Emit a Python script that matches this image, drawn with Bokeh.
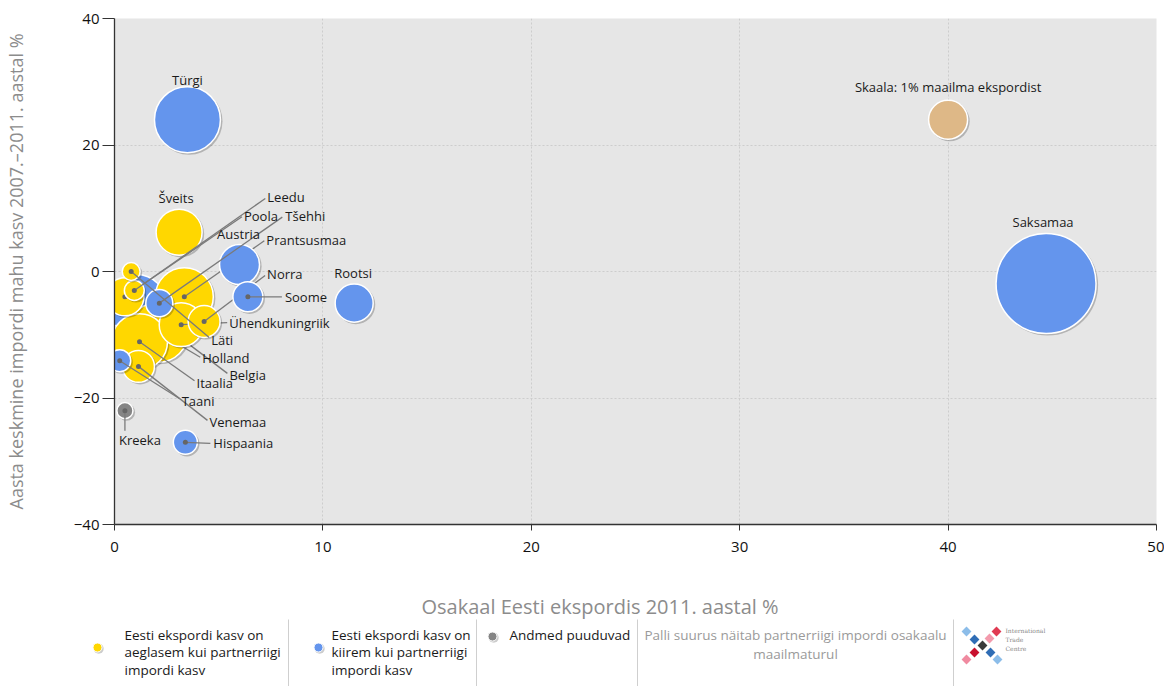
import math
from bokeh.plotting import figure
from bokeh.models import Range1d, FixedTicker
from bokeh.layouts import column, row
from bokeh.embed import file_html
from bokeh.resources import INLINE
from bokeh.core.properties import value

# ---------------- data ----------------
countries = ["Saksamaa", "Türgi", "Rootsi", "Šveits", "Austria", "Soome", "Prantsusmaa",
             "Norra", "Tšehhi", "Läti", "Leedu", "Poola", "Belgia", "Holland",
             "Ühendkuningriik", "Itaalia", "Taani", "Venemaa", "Kreeka", "Hispaania",
             "Skaala: 1% maailma ekspordist"]
export_share = [44.7, 3.5, 11.5, 3.1, 6.0, 6.4, 3.35, 4.3, 2.15, 0.8, 0.95, 0.5, 1.05, 2.1,
                3.2, 1.2, 0.25, 1.15, 0.5, 3.4, 40.0]
import_growth = [-1.9, 24.0, -5.0, 6.2, 1.1, -4.0, -4.0, -7.9, -5.0, 0.0, -3.0, -4.0, -5.2, -9.6,
                 -8.4, -11.1, -14.1, -15.0, -22.0, -27.0, 24.0]
world_import_share = [6.57, 2.86, 0.95, 1.39, 1.05, 0.59, 2.21, 0.67, 0.48, 0.21, 0.26, 0.95, 2.37,
                      2.37, 1.27, 2.06, 0.32, 0.67, 0.17, 0.38, 1.0]
group = ["fast", "fast", "fast", "slow", "fast", "fast", "slow", "slow", "fast", "slow", "slow",
         "slow", "fast", "slow", "slow", "slow", "fast", "slow", "na", "fast", "scale"]

x_ticks = [0, 10, 20, 30, 40, 50]
y_ticks = [-40, -20, 0, 20, 40]
y_tick_labels = ["−40", "−20", "0", "20", "40"]

x_title = "Osakaal Eesti ekspordis 2011. aastal %"
y_title = "Aasta keskmine impordi mahu kasv 2007.–2011. aastal %"

legend_slow = ["Eesti ekspordi kasv on", "aeglasem kui partnerriigi", "impordi kasv"]
legend_fast = ["Eesti ekspordi kasv on", "kiirem kui partnerriigi", "impordi kasv"]
legend_na = ["Andmed puuduvad"]
legend_size = ["Palli suurus näitab partnerriigi impordi osakaalu", "maailmaturul"]
logo_text = ["International", "Trade", "Centre"]

# ---------------- style ----------------
COL = {"slow": "#FFD700", "fast": "#6495ED", "na": "#858585", "scale": "#DEB887"}
FONT = "Open Sans"
FRAME_W, FRAME_H = 1042, 506
XR, YR = (0, 50), (-40, 40)
PX = FRAME_W / (XR[1] - XR[0])
PY = FRAME_H / (YR[1] - YR[0])
R1 = 19.5  # px radius of 1% bubble
TOP, BOTTOM = 18, 40

# label placement in screen px relative to bubble centre: align, text dx, dy, leader dx, dy
LAB = {
    "Saksamaa": ("center", -3, -62, None, None),
    "Türgi": ("center", 0, -40, None, None),
    "Rootsi": ("center", -1, -30, None, None),
    "Šveits": ("center", -3, -34, None, None),
    "Austria": ("center", -1, -31, None, None),
    "Skaala: 1% maailma ekspordist": ("center", 0, -33, None, None),
    "Soome": ("left", 37, 0, 34, 0),
    "Prantsusmaa": ("left", 82, -57, 80, -56),
    "Norra": ("left", 63, -47, 61, -46),
    "Tšehhi": ("left", 126, -87, 123, -86),
    "Läti": ("left", 80, 68, 78, 66),
    "Leedu": ("left", 133, -93, 131, -92),
    "Poola": ("left", 119, -81, 117, -80),
    "Belgia": ("left", 93, 71, 91, 69),
    "Holland": ("left", 44, 26, 42, 25),
    "Ühendkuningriik": ("left", 48, -2, 46, -2),
    "Itaalia": ("left", 57, 41, 55, 39),
    "Taani": ("left", 62, 40, 60, 38),
    "Venemaa": ("left", 71, 56, 69, 54),
    "Kreeka": ("center", 15, 29, 0, 20),
    "Hispaania": ("left", 28, 1, 25, 1),
}

p = figure(frame_width=FRAME_W, frame_height=FRAME_H, x_range=Range1d(*XR), y_range=Range1d(*YR),
           output_backend="svg", toolbar_location=None,
           min_border_left=105, min_border_top=TOP, min_border_right=8, min_border_bottom=BOTTOM)
p.background_fill_color = "#e6e6e6"
p.border_fill_color = "white"
p.outline_line_color = None

p.xaxis.ticker = FixedTicker(ticks=x_ticks)
p.yaxis.ticker = FixedTicker(ticks=y_ticks)
p.yaxis.major_label_overrides = {t: l for t, l in zip(y_ticks, y_tick_labels)}
for ax in (p.xaxis, p.yaxis):
    ax.axis_line_color = "#333333"
    ax.axis_line_width = 1.3
    ax.major_tick_line_color = "#333333"
    ax.minor_tick_line_color = None
    ax.major_tick_in = 0
    ax.major_label_text_font = FONT
    ax.major_label_text_font_size = "15px"
    ax.major_label_text_color = "#111111"
    ax.axis_label_text_font = FONT
    ax.axis_label_text_font_style = "normal"
    ax.axis_label_text_color = "#8c8c8c"
p.yaxis.axis_label_text_font_size = "18px"
p.yaxis.major_tick_out = 12
p.yaxis.major_label_standoff = 3
p.xaxis.major_tick_out = 6
p.xaxis.major_label_standoff = 11
p.yaxis.axis_label = y_title
p.yaxis.axis_label_standoff = 43

p.xgrid.grid_line_color = "#cdcdcd"
p.ygrid.grid_line_color = "#cdcdcd"
p.xgrid.grid_line_dash = "2 2"
p.ygrid.grid_line_dash = "2 2"

order = sorted(range(len(countries)), key=lambda i: -world_import_share[i])
left_lab = {"x": [], "y": [], "t": []}
cent_lab = {"x": [], "y": [], "t": []}
for i in order:
    name = countries[i]
    cx, cy = export_share[i], import_growth[i]
    d = 2 * R1 * math.sqrt(world_import_share[i])
    p.scatter([cx + 1.6 / PX], [cy - 1.6 / PY], size=d + 1, fill_color="#000000",
              fill_alpha=0.22, line_color=None)
    p.scatter([cx], [cy], size=d, fill_color=COL[group[i]], line_color="white", line_width=1.5)
    align, tdx, tdy, ldx, ldy = LAB[name]
    if ldx is not None:
        p.segment(x0=[cx], y0=[cy], x1=[cx + ldx / PX], y1=[cy - ldy / PY],
                  line_color="#7a7a7a", line_width=1.3)
        p.scatter([cx], [cy], size=5, fill_color="#666666", line_color=None)
    tgt = left_lab if align == "left" else cent_lab
    tgt["x"].append(cx + tdx / PX)
    tgt["y"].append(cy - tdy / PY)
    tgt["t"].append(name)

p.text(x=left_lab["x"], y=left_lab["y"], text=left_lab["t"], text_font=value(FONT),
       text_font_size="13px", text_color="#1a1a1a", text_align="left", text_baseline="middle")
p.text(x=cent_lab["x"], y=cent_lab["y"], text=cent_lab["t"], text_font=value(FONT),
       text_font_size="13px", text_color="#1a1a1a", text_align="center", text_baseline="middle")

# ---------------- x title + legend strip (page-pixel coordinates) ----------------
Y0 = 1 + TOP + FRAME_H + BOTTOM
LW, LH = 1160, 122
lg = figure(width=LW, height=LH, x_range=Range1d(0, LW), y_range=Range1d(Y0 + LH, Y0),
            output_backend="svg", toolbar_location=None, x_axis_type=None, y_axis_type=None,
            min_border=0)
lg.outline_line_color = None
lg.background_fill_color = "white"

lg.text(x=[421], y=[607], text=[x_title], text_font=value(FONT), text_font_size="20px",
        text_color="#8c8c8c", text_align="left", text_baseline="middle")

for sx in (288, 476, 637, 953):
    lg.segment(x0=[sx], y0=[620], x1=[sx], y1=[Y0 + LH], line_color="#cfcfcf", line_width=1)

for (dx, dy, c) in ((97, 648, COL["slow"]), (318, 648, COL["fast"]), (492, 637, COL["na"])):
    lg.scatter([dx + 1.2], [dy + 1.2], size=10, fill_color="#000000", fill_alpha=0.2, line_color=None)
    lg.scatter([dx], [dy], size=9, fill_color=c, line_color="white", line_width=1)

def lines(xs, y0, texts, align="left", color="#1a1a1a", step=17.5):
    lg.text(x=[xs] * len(texts), y=[y0 + k * step for k in range(len(texts))], text=texts,
            text_font=value(FONT), text_font_size="13.5px", text_color=color,
            text_align=align, text_baseline="middle")

lines(124, 635, legend_slow)
lines(331, 635, legend_fast)
lines(509, 635, legend_na)
lines(795, 635, legend_size, align="center", color="#9a9a9a", step=19)

# ITC logo (decorative)
logo = [(966, 632, "#8cbde9"), (974, 640, "#2f6db5"), (996, 632, "#e03a52"), (989, 639, "#f39aac"),
        (982, 646, "#3a3a3a"), (974, 653, "#c8102e"), (966, 660, "#f08aa0"), (990, 653, "#2f6db5"),
        (997, 660, "#8cbde9")]
lg.scatter([a for a, b, c in logo], [b for a, b, c in logo], marker="square", angle=math.pi / 4,
           size=7, fill_color=[c for a, b, c in logo], line_color=None)
lg.text(x=[1005] * 3, y=[631, 640, 649], text=logo_text, text_font=value("DejaVu Serif"),
        text_font_size="6px", text_color="#888888", text_align="left", text_baseline="middle")

layout = column(p, row(lg), spacing=0)
open("out.html", "w").write(file_html(layout, INLINE))
